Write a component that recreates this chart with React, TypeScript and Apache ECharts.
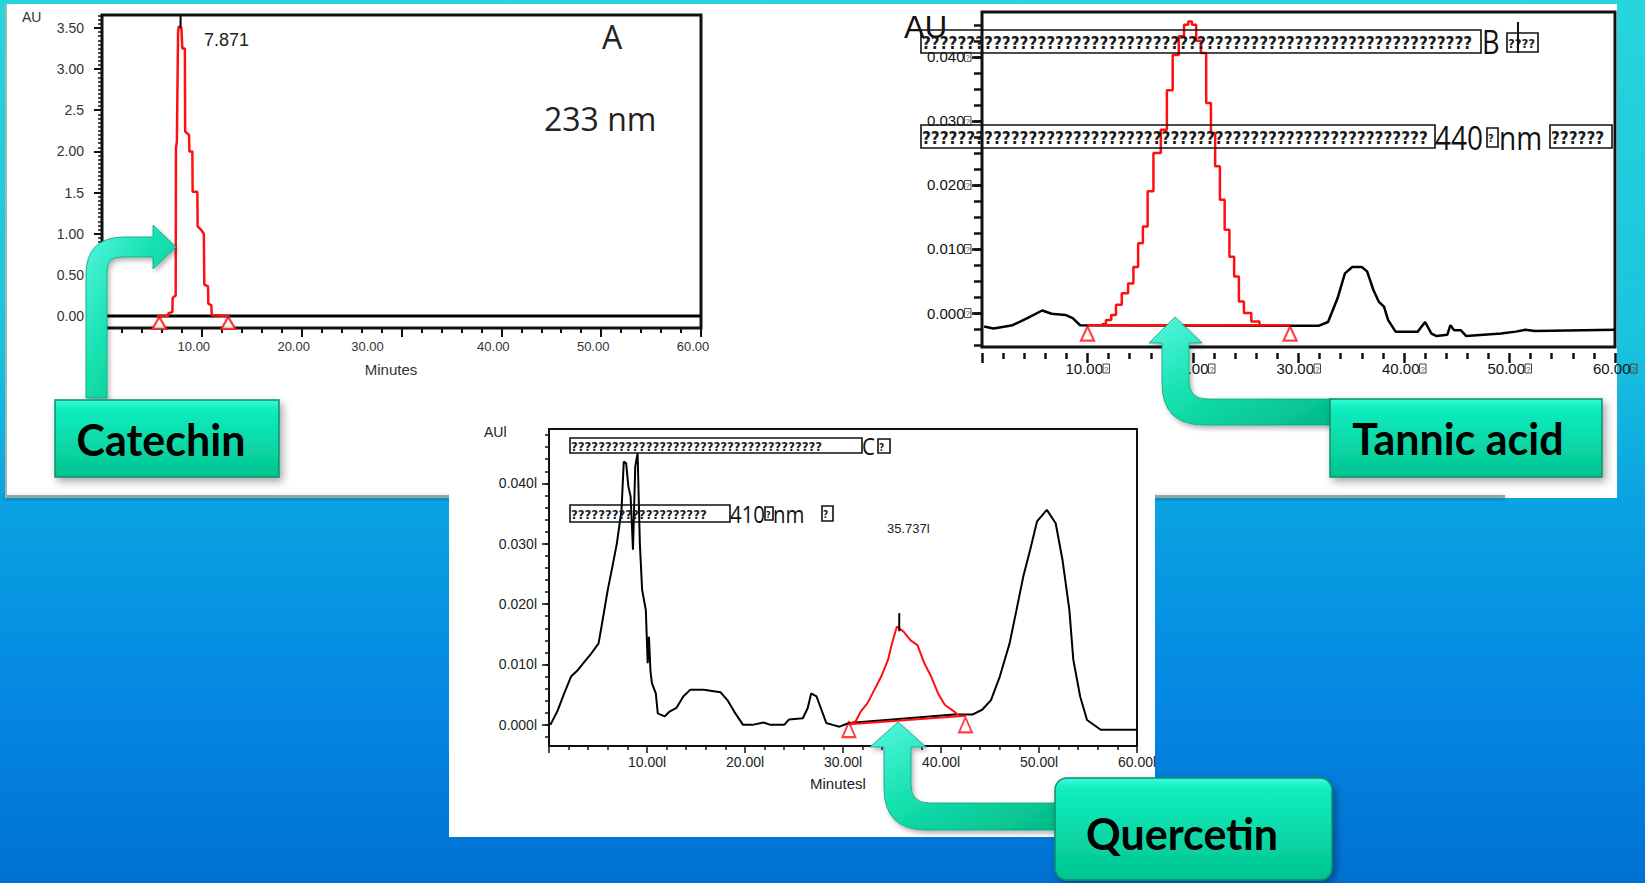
import React, { useEffect, useRef } from "react";
import * as echarts from "echarts";

const W = 1645;
const H = 883;

// ---------- Panel A : Catechin, 233 nm ----------
const catechinBaseline = [[0.4, 0], [60, 0]];
const catechinPeak = [
  [5.5, 0], [6.6, 0], [6.65, 0.03], [7.05, 0.05], [7.08, 0.22], [7.38, 0.25], [7.41, 2.04], [7.5, 2.12],
  [7.62, 3.45], [7.7, 3.52], [7.95, 3.5], [8.05, 3.25], [8.3, 3.25], [8.33, 2.24], [8.72, 2.2], [8.75, 2.0],
  [9.05, 2.0], [9.08, 1.51], [9.55, 1.51], [9.58, 1.09], [9.9, 1.05], [10.2, 1.0], [10.25, 0.38], [10.62, 0.36],
  [10.65, 0.15], [10.95, 0.13], [11.0, 0.01], [12.8, 0],
];
const catechinMarks = [[5.74, -0.085], [12.65, -0.085]];
const catechinApex = [[7.87, 3.5], [7.87, 3.65]];
const yTicksA = [0, 0.5, 1, 1.5, 2, 2.5, 3, 3.5];
const yLabelsA = ["0.00", "0.50", "1.00", "1.5", "2.00", "2.5", "3.00", "3.50"];

// ---------- Panel B : Tannic acid, 440 nm ----------
const tannicTrace = [
  [0.2, -0.0021], [1.1, -0.0024], [2.9, -0.0019], [4.3, -0.0008], [5.7, 0.0004], [6.6, -0.0001], [7.9, -0.0003],
  [8.6, -0.0008], [9.3, -0.0019], [31.9, -0.002], [32.8, -0.0014], [33.7, 0.0023], [34.4, 0.0062], [35.1, 0.0072],
  [36.0, 0.0072], [36.5, 0.0065], [37.1, 0.0036], [37.6, 0.0018], [38.1, 0.001], [38.5, -0.0011], [39.2, -0.0029],
  [41.3, -0.0029], [42.0, -0.0014], [42.6, -0.0032], [43.1, -0.0036], [44.1, -0.0034], [44.4, -0.0019],
  [44.75, -0.0027], [45.4, -0.0027], [45.9, -0.0036], [49.2, -0.0032], [50.6, -0.0029], [51.5, -0.0026],
  [52.4, -0.0028], [60, -0.0026],
];
const tannicPeak = [
  [11.3, -0.0019], [11.5, -0.0017], [12.0, -0.0011], [12.5, -0.0003], [12.9, 0.0013], [13.6, 0.0031], [14.1, 0.0046],
  [14.6, 0.0072], [15.0, 0.0109], [15.5, 0.0135], [15.9, 0.019], [16.6, 0.025], [17.3, 0.0286], [17.75, 0.0348],
  [18.4, 0.0403], [18.9, 0.0432], [19.4, 0.0450], [19.7, 0.0455], [20.1, 0.0450], [20.5, 0.0425], [21.0, 0.0406], [21.5, 0.0328],
  [21.9, 0.0281], [22.3, 0.0229], [22.8, 0.0177], [23.2, 0.013], [23.7, 0.0088], [24.1, 0.0057], [24.6, 0.0018],
  [25.05, 0.0], [26.0, -0.0013], [26.6, -0.0019],
];
const tannicBaseline = [[10.0, -0.0019], [29.2, -0.0019]];
const tannicMarks = [[10.0, -0.0032], [29.2, -0.0032]];
const yTicksB = [0, 0.01, 0.02, 0.03, 0.04];

// ---------- Panel C : Quercetin, 410 nm ----------
const quercetinTrace = [
  [0.14, 0.0], [0.84, 0.0022], [1.55, 0.0052], [2.25, 0.008], [2.95, 0.0091], [3.65, 0.0105], [4.35, 0.0119],
  [5.06, 0.0135], [5.53, 0.0179], [6.0, 0.0224], [6.47, 0.0262], [6.93, 0.0301], [7.4, 0.0356], [7.63, 0.0436],
  [7.87, 0.0433], [8.1, 0.0395], [8.33, 0.0378], [8.57, 0.029], [8.8, 0.0428], [9.04, 0.045], [9.27, 0.0301],
  [9.5, 0.0224], [9.88, 0.019], [10.07, 0.0102], [10.2, 0.0146], [10.35, 0.009], [10.5, 0.0069], [10.9, 0.0052],
  [11.1, 0.0019], [11.8, 0.0014], [12.3, 0.0022], [13.0, 0.0028], [13.7, 0.0047], [14.4, 0.0058], [15.8, 0.0058],
  [17.5, 0.0054], [18.2, 0.0041], [18.9, 0.0022], [19.8, 0.0], [20.75, 0.0], [21.9, 0.0004], [22.6, 0.0],
  [24.0, 0.0], [24.5, 0.0009], [25.9, 0.0011], [26.4, 0.0028], [26.75, 0.0052], [27.3, 0.0047], [27.8, 0.0025],
  [28.3, 0.0003], [28.95, 0.0], [29.65, -0.0003], [30.6, 0.0003], [41.35, 0.0017], [43.2, 0.0017], [44.2, 0.0025],
  [45.1, 0.0041], [46.0, 0.008], [47.0, 0.0135], [47.7, 0.019], [48.4, 0.0246], [49.1, 0.029], [49.8, 0.0337],
  [50.8, 0.0356], [51.7, 0.0334], [52.4, 0.0273], [53.1, 0.019], [53.5, 0.0108], [54.2, 0.0047], [54.9, 0.0008],
  [56.3, -0.0008], [60, -0.0008],
];
const quercetinPeak = [
  [30.6, 0.0001], [31.3, 0.0006], [31.8, 0.0022], [32.5, 0.0036], [33.2, 0.0058], [33.9, 0.008], [34.6, 0.0108],
  [35.0, 0.0135], [35.5, 0.0163], [36.2, 0.0154], [36.9, 0.014], [37.6, 0.0132], [38.3, 0.0102], [39.0, 0.008],
  [39.7, 0.0052], [40.4, 0.0033], [41.35, 0.0022], [41.8, 0.0015], [42.5, 0.0015],
];
const quercetinBaseline = [[30.6, 0.0001], [42.5, 0.0015]];
const quercetinMarks = [[30.6, -0.0008], [42.5, 0.0]];
const quercetinApex = [[35.74, 0.0155], [35.74, 0.0185]];
const yTicksC = [0, 0.01, 0.02, 0.03, 0.04];

const SANS = "'Liberation Sans', Arial, sans-serif";
const OPEN = "'Open Sans', 'Noto Sans', sans-serif";
const NARROW = "'Liberation Sans Narrow', 'DejaVu Sans Condensed', 'Liberation Sans', sans-serif";

const steps = (a: number, b: number, s: number) => {
  const out: number[] = [];
  for (let i = 0; a + i * s <= b + 1e-9; i++) out.push(+(a + i * s).toFixed(6));
  return out;
};

const ARROW_A = "M86 398 L86 275 Q86 237 124 237 L153 237 L153 225 L176 247 L153 269 L153 257 L121 257 Q107 257 107 271 L107 398 Z";
const ARROW_B = "M1149 343 L1175 317 L1202 343 L1189 343 L1189 381 Q1189 399 1207 399 L1334 399 L1334 425 L1204 425 Q1162 425 1162 383 L1162 343 Z";
const ARROW_C = "M870 747 L898 722 L926 747 L911 747 L911 785 Q911 803 929 803 L1060 803 L1060 830 L926 830 Q884 830 884 788 L884 747 Z";

function registerArrows() {
  echarts.graphic.registerShape("arrowA", echarts.graphic.extendPath(ARROW_A, {}));
  echarts.graphic.registerShape("arrowB", echarts.graphic.extendPath(ARROW_B, {}));
  echarts.graphic.registerShape("arrowC", echarts.graphic.extendPath(ARROW_C, {}));
}

function band(x: number, y: number, w: number, h: number, fs: number) {
  return [
    {
      type: "rect",
      z: 50,
      shape: { x, y, width: w, height: h },
      style: { fill: "rgba(0,0,0,0)", stroke: "#111", lineWidth: 1.6 },
    },
    {
      type: "text",
      z: 50,
      x: x + 1,
      y: y + h / 2 + 1,
      style: {
        text: "?".repeat(Math.ceil(w / 3)),
        width: w - 2,
        overflow: "truncate",
        ellipsis: "",
        font: `bold ${fs}px ${NARROW}`,
        fill: "#1a1a1a",
        verticalAlign: "middle",
      },
    },
  ];
}

function txt(x: number, y: number, text: string, font: string, fill = "#222", align = "left", extra: any = {}) {
  return {
    type: "text",
    z: 50,
    x,
    y,
    ...extra,
    style: { text, font, fill, align, verticalAlign: "middle" },
  };
}

function labelBox(x: number, y: number, w: number, h: number, r: number, text: string, tx: number, ty: number) {
  return [
    {
      type: "rect",
      z: 120,
      shape: { x, y, width: w, height: h, r },
      style: {
        fill: new echarts.graphic.LinearGradient(0, 0, 0, 1, [
          { offset: 0, color: "#3cfbdc" },
          { offset: 0.1, color: "#12eebf" },
          { offset: 1, color: "#02c490" },
        ]),
        stroke: "#0b8f6b",
        lineWidth: 1.5,
        shadowBlur: 8,
        shadowOffsetX: 3,
        shadowOffsetY: 4,
        shadowColor: "rgba(0,0,0,0.35)",
      },
    },
    {
      type: "text",
      z: 121,
      x: tx,
      y: ty,
      style: { text, font: `bold 43px Lato, 'Open Sans', sans-serif`, fill: "#000", align: "center", verticalAlign: "middle" },
    },
  ];
}

function arrow(type: string) {
  return {
    type,
    z: 110,
    style: {
      fill: new echarts.graphic.LinearGradient(0, 0, 1, 1, [
        { offset: 0, color: "#55f8e0" },
        { offset: 0.45, color: "#14e0ae" },
        { offset: 1, color: "#02b988" },
      ]),
      stroke: "#08a27c",
      lineWidth: 0.8,
      shadowBlur: 5,
      shadowOffsetX: 2,
      shadowOffsetY: 3,
      shadowColor: "rgba(0,0,0,0.3)",
    },
  };
}

function buildOption() {
  const tofuRich = {
    n: { fontSize: 15, color: "#111", fontFamily: SANS },
    q: { fontSize: 8, color: "#444", borderColor: "#444", borderWidth: 1, padding: [1, 1, 0, 1], fontFamily: SANS },
  };

  const graphics: any[] = [
    // white sheets
    { type: "rect", z: -10, shape: { x: 5, y: 4, width: 1612, height: 494 }, style: { fill: "#ffffff" } },
    { type: "rect", z: -9, shape: { x: 5, y: 495, width: 1500, height: 3 }, style: { fill: "#8fa8a2", shadowBlur: 6, shadowOffsetY: 3, shadowColor: "rgba(0,40,80,0.45)" } },
    { type: "rect", z: -9, shape: { x: 5, y: 4, width: 2, height: 494 }, style: { fill: "#9fb8b2" } },
    { type: "rect", z: -8, shape: { x: 449, y: 470, width: 706, height: 367 }, style: { fill: "#ffffff" } },

    // Panel A texts
    txt(22, 17, "AU", `14px ${SANS}`, "#333"),
    txt(204, 40, "7.871", `18px ${SANS}`, "#222"),
    txt(612, 36, "A", `32px ${OPEN}`, "#222", "center"),
    txt(544, 118, "233 nm", `32px ${OPEN}`, "#222"),
    txt(391, 369, "Minutes", `15px ${SANS}`, "#333", "center"),

    // Panel B texts
    txt(904, 27, "AU", `31px ${SANS}`, "#111"),
    ...band(921, 30, 560, 23, 17),
    txt(1482, 42, "B", `32px ${OPEN}`, "#111", "left", { scaleX: 0.85 }),
    ...band(1507, 33, 31, 19, 13),
    { type: "line", z: 50, shape: { x1: 1518, y1: 22, x2: 1518, y2: 53 }, style: { stroke: "#111", lineWidth: 2 } },
    ...band(921, 125, 514, 23, 17),
    txt(1435, 137, "440", `33px ${OPEN}`, "#111", "left", { scaleX: 0.85 }),
    ...band(1487, 128, 11, 19, 11),
    txt(1499, 137, "nm", `33px ${OPEN}`, "#111", "left", { scaleX: 0.85 }),
    ...band(1550, 125, 62, 23, 17),

    // Panel C texts
    txt(484, 432, "AUl", `14px ${SANS}`, "#222"),
    ...band(570, 438, 292, 15, 13),
    txt(862, 446, "C", `24px ${OPEN}`, "#111", "left", { scaleX: 0.85 }),
    ...band(878, 439, 12, 14, 10),
    ...band(570, 505, 160, 17, 13),
    txt(730, 514, "410", `24px ${OPEN}`, "#111", "left", { scaleX: 0.85 }),
    ...band(765, 507, 8, 13, 9),
    txt(773, 514, "nm", `24px ${OPEN}`, "#111", "left", { scaleX: 0.85 }),
    ...band(822, 506, 11, 15, 10),
    txt(887, 528, "35.737l", `13px ${SANS}`, "#222"),
    txt(810, 783, "Minutesl", `15px ${SANS}`, "#222"),

    // arrows and compound labels
    arrow("arrowA"),
    arrow("arrowB"),
    arrow("arrowC"),
    ...labelBox(55, 400, 224, 77, 0, "Catechin", 161, 439),
    ...labelBox(1330, 399, 272, 78, 0, "Tannic acid", 1458, 438),
    ...labelBox(1055, 778, 277, 102, 12, "Quercetin", 1182, 833),
  ];

  const baseY = (gridIndex: number, min: number, max: number) => ({
    gridIndex,
    type: "value",
    position: "left",
    min,
    max,
    axisLine: { show: false, onZero: false },
    splitLine: { show: false },
  });

  const idxOf = (arr: number[], v: number) => arr.findIndex((t) => Math.abs(t - v) < 1e-9);

  return {
    animation: false,
    backgroundColor: "transparent",
    graphic: { elements: graphics },
    grid: [
      { left: 102, top: 15, width: 599, height: 313, show: true, borderColor: "#111", borderWidth: 3, backgroundColor: "transparent", outerBoundsMode: "none", containLabel: false },
      { left: 982, top: 12, width: 633, height: 335, show: true, borderColor: "#111", borderWidth: 3, backgroundColor: "transparent", outerBoundsMode: "none", containLabel: false },
      { left: 549, top: 429, width: 588, height: 317, show: true, borderColor: "#111", borderWidth: 2, backgroundColor: "transparent", outerBoundsMode: "none", containLabel: false },
    ],
    xAxis: [
      {
        gridIndex: 0, type: "value", min: 0, max: 60, interval: 10, position: "bottom",
        axisLine: { show: false, onZero: false }, splitLine: { show: false },
        axisTick: { show: true, length: 9, lineStyle: { color: "#111", width: 2 } },
        minorTick: { show: true, splitNumber: 5, length: 5, lineStyle: { color: "#111", width: 2 } },
        axisLabel: {
          margin: 12,
          formatter: (v: number) => (v === 0 ? "" : v === 30 ? `{s|${v.toFixed(2)}}` : `{n|${v.toFixed(2)}}`),
          rich: {
            n: { fontSize: 13, color: "#333", fontFamily: SANS, padding: [0, 16, 0, 0] },
            s: { fontSize: 13, color: "#333", fontFamily: SANS, padding: [0, 68, 0, 0] },
          },
        },
      },
      {
        gridIndex: 1, type: "value", min: 0, max: 60, interval: 10, offset: 6, position: "bottom",
        axisLine: { show: false, onZero: false }, splitLine: { show: false },
        axisTick: { show: true, length: 10, lineStyle: { color: "#111", width: 2.5 } },
        minorTick: { show: true, splitNumber: 5, length: 6, lineStyle: { color: "#111", width: 2.5 } },
        axisLabel: {
          margin: 8,
          formatter: (v: number) => (v === 0 ? "" : `{n|${v.toFixed(2)}}{q|?}`),
          rich: tofuRich,
        },
      },
      {
        gridIndex: 2, type: "value", min: 0, max: 60, interval: 10, position: "bottom",
        axisLine: { show: false, onZero: false }, splitLine: { show: false },
        axisTick: { show: true, length: 7, lineStyle: { color: "#111", width: 1.5 } },
        minorTick: { show: true, splitNumber: 5, length: 4, lineStyle: { color: "#111", width: 1.5 } },
        axisLabel: {
          margin: 9, fontSize: 14, color: "#222", fontFamily: SANS,
          formatter: (v: number) => (v === 0 ? "" : `${v.toFixed(2)}l`),
        },
      },
    ],
    yAxis: [
      {
        ...baseY(0, -0.1458, 3.657),
        axisTick: { show: true, customValues: yTicksA, length: 8, lineStyle: { color: "#111", width: 2 } },
        axisLabel: {
          customValues: yTicksA, margin: 18, fontSize: 14, color: "#333", fontFamily: SANS,
          formatter: (v: number) => yLabelsA[idxOf(yTicksA, v)] ?? "",
        },
      },
      {
        ...baseY(0, -0.1458, 3.657),
        axisTick: { show: true, customValues: steps(-0.1, 3.65, 0.05), length: 4, lineStyle: { color: "#111", width: 1.5 } },
        axisLabel: { show: false },
      },
      {
        ...baseY(1, -0.0053, 0.047),
        offset: 1,
        axisTick: { show: true, customValues: yTicksB, length: 9, lineStyle: { color: "#111", width: 2.5 } },
        axisLabel: {
          customValues: yTicksB, margin: 10,
          formatter: (v: number) => `{n|${v.toFixed(3)}}{q|?}`,
          rich: tofuRich,
        },
      },
      {
        ...baseY(1, -0.0053, 0.047),
        offset: 1,
        axisTick: { show: true, customValues: steps(-0.005, 0.0465, 0.0025), length: 7, lineStyle: { color: "#111", width: 2.5 } },
        axisLabel: { show: false },
      },
      {
        ...baseY(2, -0.0035, 0.049),
        axisTick: { show: true, customValues: yTicksC, length: 7, lineStyle: { color: "#111", width: 1.5 } },
        axisLabel: {
          customValues: yTicksC, margin: 12, fontSize: 14, color: "#222", fontFamily: SANS,
          formatter: (v: number) => `${v.toFixed(3)}l`,
        },
      },
      {
        ...baseY(2, -0.0035, 0.049),
        axisTick: { show: true, customValues: steps(-0.002, 0.048, 0.002), length: 4, lineStyle: { color: "#111", width: 1.5 } },
        axisLabel: { show: false },
      },
    ],
    series: [
      // Panel A
      { type: "line", xAxisIndex: 0, yAxisIndex: 0, data: catechinBaseline, showSymbol: false, silent: true, lineStyle: { color: "#000", width: 3 } },
      { type: "line", xAxisIndex: 0, yAxisIndex: 0, data: catechinPeak, showSymbol: false, silent: true, lineStyle: { color: "#ff1010", width: 2.5 } },
      { type: "line", xAxisIndex: 0, yAxisIndex: 0, data: catechinApex, showSymbol: false, silent: true, lineStyle: { color: "#000", width: 2 } },
      { type: "scatter", xAxisIndex: 0, yAxisIndex: 0, data: catechinMarks, symbol: "triangle", symbolSize: [14, 12], silent: true, itemStyle: { color: "#fff", borderColor: "#ff1010", borderWidth: 2.2 } },
      // Panel B
      { type: "line", xAxisIndex: 1, yAxisIndex: 2, data: tannicTrace, showSymbol: false, silent: true, lineStyle: { color: "#000", width: 2.5 } },
      { type: "line", xAxisIndex: 1, yAxisIndex: 2, data: tannicBaseline, showSymbol: false, silent: true, lineStyle: { color: "#ff1010", width: 2.5 } },
      { type: "line", xAxisIndex: 1, yAxisIndex: 2, data: tannicPeak, step: "middle", showSymbol: false, silent: true, lineStyle: { color: "#ff1010", width: 2.5 } },
      { type: "scatter", xAxisIndex: 1, yAxisIndex: 2, data: tannicMarks, symbol: "triangle", symbolSize: [13, 14], silent: true, itemStyle: { color: "#fff", borderColor: "#ff1010", borderWidth: 2.2 } },
      // Panel C
      { type: "line", xAxisIndex: 2, yAxisIndex: 4, data: quercetinTrace, showSymbol: false, silent: true, lineStyle: { color: "#000", width: 2 } },
      { type: "line", xAxisIndex: 2, yAxisIndex: 4, data: quercetinBaseline, showSymbol: false, silent: true, lineStyle: { color: "#ff1010", width: 2 } },
      { type: "line", xAxisIndex: 2, yAxisIndex: 4, data: quercetinPeak, showSymbol: false, silent: true, lineStyle: { color: "#ff1010", width: 2 } },
      { type: "line", xAxisIndex: 2, yAxisIndex: 4, data: quercetinApex, showSymbol: false, silent: true, lineStyle: { color: "#000", width: 2 } },
      { type: "scatter", xAxisIndex: 2, yAxisIndex: 4, data: quercetinMarks, symbol: "triangle", symbolSize: [13, 15], silent: true, itemStyle: { color: "#fff", borderColor: "#ff1010", borderWidth: 2 } },
    ],
  };
}

export default function App() {
  const ref = useRef<HTMLDivElement>(null);
  useEffect(() => {
    if (!ref.current) return;
    registerArrows();
    const chart = echarts.init(ref.current, undefined, { renderer: "svg" });
    chart.setOption(buildOption() as any);
    return () => chart.dispose();
  }, []);
  return (
    <div
      ref={ref}
      style={{
        position: "fixed",
        left: 0,
        top: 0,
        width: W,
        height: H,
        background:
          "linear-gradient(to bottom, #26d6dc 0%, #1ac4df 38%, #0aa2e1 57%, #0589e3 78%, #0071d2 100%)",
      }}
    />
  );
}
